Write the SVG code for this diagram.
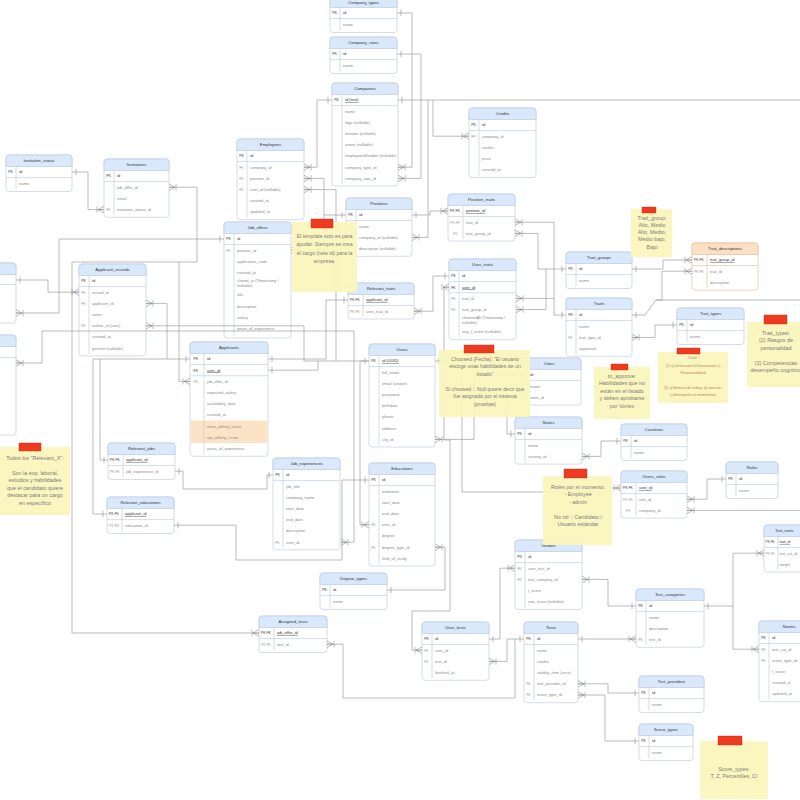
<svg xmlns="http://www.w3.org/2000/svg" width="800" height="800" viewBox="0 0 800 800">
<defs>
<style>
.bx{fill:#fff;stroke:#b7c6da;stroke-width:.6}
.hd{fill:#dae8fc;stroke:#b7c6da;stroke-width:.6}
.ho{fill:#fde0c4;stroke:#e0b98f;stroke-width:.6}
.bo{fill:#fff;stroke:#e0b98f;stroke-width:.6}
.sp{fill:none;stroke:#b7c6da;stroke-width:.6}
.so{fill:none;stroke:#e0b98f;stroke-width:.6}
text{font-family:"Liberation Sans",Arial,sans-serif}
.tt{font-size:4.3px;fill:#333;text-anchor:middle}
.f{font-size:4px;fill:#8a8a8a}
.p{fill:#333}
.k{font-size:3.5px;fill:#999}
.kp{fill:#333}
.u{text-decoration:underline}
.cn{fill:none;stroke:#9e9e9e;stroke-width:.7}
.nt{fill:#fbf5bb;fill-opacity:.93}
.tag{fill:#ee3b1f;stroke:#c52a12;stroke-width:.4}
.nx{font-size:5.4px;fill:#7b7b7b;text-anchor:middle}
.ns{font-size:3.4px;fill:#b38352;text-anchor:middle}
</style>
<marker id="m" viewBox="-8 -4 9 8" refX="0" refY="0" markerWidth="9" markerHeight="8" markerUnits="userSpaceOnUse" orient="auto-start-reverse"><path d="M-7,-3.2V3.2M-6,0L0,-3.2M-6,0H0M-6,0L0,3.2" fill="none" stroke="#8f8f8f" stroke-width=".6"/></marker>
<marker id="o" viewBox="-8 -4 9 8" refX="0" refY="0" markerWidth="9" markerHeight="8" markerUnits="userSpaceOnUse" orient="auto-start-reverse"><path d="M-4,-3.2V3.2" fill="none" stroke="#8f8f8f" stroke-width=".6"/></marker>
</defs>
<rect width="800" height="800" fill="#fff"/>

<g id="company_types" transform="translate(330,-4)"><rect class="bx" width="67" height="36.5" rx="3"/><path class="hd" d="M0,11.5V3a3,3 0 0 1 3,-3H64a3,3 0 0 1 3,3V11.5Z"/><path class="sp" d="M0,22.6H67M10,11.5V34.5"/><text class="tt" x="33.5" y="7.6">Company_types</text><text class="k kp" x="2.2" y="18.4">PK</text><text class="f p" x="13" y="18.4">id</text><text class="f" x="13" y="29.6">name</text></g>

<g id="company_sizes" transform="translate(330,37)"><rect class="bx" width="67" height="36.5" rx="3"/><path class="hd" d="M0,11.5V3a3,3 0 0 1 3,-3H64a3,3 0 0 1 3,3V11.5Z"/><path class="sp" d="M0,22.6H67M10,11.5V34.5"/><text class="tt" x="33.5" y="7.3">Company_sizes</text><text class="k kp" x="2.2" y="18.4">PK</text><text class="f p" x="13" y="18.4">id</text><text class="f" x="13" y="29.6">name</text></g>

<g id="companies" transform="translate(332,83)"><rect class="bx" width="66" height="103" rx="3"/><path class="hd" d="M0,11.5V3a3,3 0 0 1 3,-3H63a3,3 0 0 1 3,3V11.5Z"/><path class="sp" d="M0,22.6H66M10,11.5V101"/><text class="tt" x="33" y="7.3">Companies</text><text class="k kp" x="2.2" y="18.4">PK</text><text class="f p u" x="13" y="18.4">id (text)</text><text class="f" x="13" y="29.6">name</text><text class="f" x="13" y="40.8">logo (nullable)</text><text class="f" x="13" y="52">mission (nullable)</text><text class="f" x="13" y="63.2">vision (nullable)</text><text class="f" x="13" y="74.4">employeesNumber (nullable)</text><text class="f" x="13" y="85.6">company_type_id</text><text class="f" x="13" y="96.8">company_size_id</text></g>

<g id="credits" transform="translate(469,108)"><rect class="bx" width="67" height="69.5" rx="3"/><path class="hd" d="M0,11.5V3a3,3 0 0 1 3,-3H64a3,3 0 0 1 3,3V11.5Z"/><path class="sp" d="M0,22.6H67M10,11.5V67.5"/><text class="tt" x="33.5" y="7.3">Credits</text><text class="k kp" x="2.2" y="18.4">PK</text><text class="f p" x="13" y="18.4">id</text><text class="k" x="2.2" y="29.6">FK</text><text class="f" x="13" y="29.6">company_id</text><text class="f" x="13" y="40.8">credits</text><text class="f" x="13" y="52">price</text><text class="f" x="13" y="63.2">created_at</text></g>

<g id="employees" transform="translate(237,139)"><rect class="bx" width="67" height="80.7" rx="3"/><path class="hd" d="M0,11.5V3a3,3 0 0 1 3,-3H64a3,3 0 0 1 3,3V11.5Z"/><path class="sp" d="M0,22.6H67M10,11.5V78.7"/><text class="tt" x="33.5" y="7.3">Employees</text><text class="k kp" x="2.2" y="18.4">PK</text><text class="f p" x="13" y="18.4">id</text><text class="k" x="2.2" y="29.6">FK</text><text class="f" x="13" y="29.6">company_id</text><text class="k" x="2.2" y="40.8">FK</text><text class="f" x="13" y="40.8">position_id</text><text class="k" x="2.2" y="52">FK</text><text class="f" x="13" y="52">user_id (nullable)</text><text class="f" x="13" y="63.2">created_at</text><text class="f" x="13" y="74.4">updated_at</text></g>

<g id="positions" transform="translate(346,198)"><rect class="bx" width="66" height="58.3" rx="3"/><path class="hd" d="M0,11.5V3a3,3 0 0 1 3,-3H63a3,3 0 0 1 3,3V11.5Z"/><path class="sp" d="M0,22.6H66M10,11.5V56.3"/><text class="tt" x="33" y="7.3">Positions</text><text class="k kp" x="2.2" y="18.4">PK</text><text class="f p" x="13" y="18.4">id</text><text class="f" x="13" y="29.6">name</text><text class="f" x="13" y="40.8">company_id (nullable)</text><text class="f" x="13" y="52">description (nullable)</text></g>

<g id="job_offers" transform="translate(224,222)"><rect class="bx" width="67" height="116" rx="3"/><path class="hd" d="M0,11.5V3a3,3 0 0 1 3,-3H64a3,3 0 0 1 3,3V11.5Z"/><path class="sp" d="M0,22.6H67M10,11.5V114"/><text class="tt" x="33.5" y="7.3">Job_offers</text><text class="k kp" x="2.2" y="18.4">PK</text><text class="f p" x="13" y="18.4">id</text><text class="k" x="2.2" y="29.6">FK</text><text class="f" x="13" y="29.6">position_id</text><text class="f" x="13" y="40.8">application_code</text><text class="f" x="13" y="52">created_at</text><text class="f" x="13" y="60.4">closed_at (Timestamp /</text><text class="f" x="13" y="65.4">nullable)</text><text class="f" x="13" y="74.4">title</text><text class="f" x="13" y="85.6">description</text><text class="f" x="13" y="96.8">salary</text><text class="f" x="13" y="108">years_of_experience</text></g>

<g id="position_traits" transform="translate(448,194)"><rect class="bx" width="67" height="47.1" rx="3"/><path class="hd" d="M0,11.5V3a3,3 0 0 1 3,-3H64a3,3 0 0 1 3,3V11.5Z"/><path class="sp" d="M0,22.6H67M15,11.5V45.1"/><text class="tt" x="33.5" y="7.3">Position_traits</text><text class="k kp" x="1.8" y="18.4">PK FK</text><text class="f p u" x="18" y="18.4">position_id</text><text class="k" x="1.8" y="29.6">PK FK</text><text class="f" x="18" y="29.6">trait_id</text><text class="k" x="5" y="40.8">FK</text><text class="f" x="18" y="40.8">trait_group_id</text></g>

<g id="invitation_status" transform="translate(6,155)"><rect class="bx" width="66" height="36.5" rx="3"/><path class="hd" d="M0,11.5V3a3,3 0 0 1 3,-3H63a3,3 0 0 1 3,3V11.5Z"/><path class="sp" d="M0,22.6H66M10,11.5V34.5"/><text class="tt" x="33" y="7.3">Invitation_status</text><text class="k kp" x="2.2" y="18.4">PK</text><text class="f p" x="13" y="18.4">id</text><text class="f" x="13" y="29.6">name</text></g>

<g id="invitations" transform="translate(104,159)"><rect class="bx" width="65" height="58.3" rx="3"/><path class="hd" d="M0,11.5V3a3,3 0 0 1 3,-3H62a3,3 0 0 1 3,3V11.5Z"/><path class="sp" d="M0,22.6H65M10,11.5V56.3"/><text class="tt" x="32.5" y="7.3">Invitations</text><text class="k kp" x="2.2" y="18.4">PK</text><text class="f p" x="13" y="18.4">id</text><text class="f" x="13" y="29.6">job_offer_id</text><text class="f" x="13" y="40.8">email</text><text class="k" x="2.2" y="52">FK</text><text class="f" x="13" y="52">invitation_status_id</text></g>

<g id="applicant_records" transform="translate(79,264)"><rect class="bx" width="67" height="91.9" rx="3"/><path class="hd" d="M0,11.5V3a3,3 0 0 1 3,-3H64a3,3 0 0 1 3,3V11.5Z"/><path class="sp" d="M0,22.6H67M10,11.5V89.9"/><text class="tt" x="33.5" y="7.3">Applicant_records</text><text class="k kp" x="2.2" y="18.4">PK</text><text class="f p" x="13" y="18.4">id</text><text class="k" x="2.2" y="29.6">FK</text><text class="f" x="13" y="29.6">record_id</text><text class="k" x="2.2" y="40.8">FK</text><text class="f" x="13" y="40.8">applicant_id</text><text class="f" x="13" y="52">notes</text><text class="k" x="2.2" y="63.2">FK</text><text class="f" x="13" y="63.2">author_id (user)</text><text class="f" x="13" y="74.4">created_at</text><text class="f" x="13" y="85.6">percent (nullable)</text></g>

<g id="applicants" transform="translate(190,342)"><rect class="bx" width="78" height="114.3" rx="3"/><rect x="0.3" y="78.6" width="77.4" height="22.4" fill="#fde3c6"/><path class="hd" d="M0,11.5V3a3,3 0 0 1 3,-3H75a3,3 0 0 1 3,3V11.5Z"/><path class="sp" d="M0,22.6H78M0,33.8H78M14,11.5V112.3"/><text class="tt" x="39" y="7.3">Applicants</text><text class="k kp" x="3.5" y="18.4">PK</text><text class="f p" x="17" y="18.4">id</text><text class="k kp" x="3.5" y="29.6">FK</text><text class="f p u" x="17" y="29.6">user_id</text><text class="k" x="3.5" y="40.8">FK</text><text class="f" x="17" y="40.8">job_offer_id</text><text class="f" x="17" y="52">expected_salary</text><text class="f" x="17" y="63.2">availability_date</text><text class="f" x="17" y="74.4">created_at</text><text class="f" x="17" y="85.6">main_affinity_score</text><text class="f" x="17" y="96.8">opt_affinity_score</text><text class="f" x="17" y="108">years_of_experience</text></g>

<g id="relevant_traits" transform="translate(348,283)"><rect class="bx" width="66" height="36" rx="3"/><path class="hd" d="M0,11.5V3a3,3 0 0 1 3,-3H63a3,3 0 0 1 3,3V11.5Z"/><path class="sp" d="M0,22.6H66M15,11.5V34"/><text class="tt" x="33" y="7.3">Relevant_traits</text><text class="k kp" x="1.8" y="18.4">PK FK</text><text class="f p u" x="18" y="18.4">applicant_id</text><text class="k" x="1.8" y="29.6">PK FK</text><text class="f" x="18" y="29.6">user_trait_id</text></g>

<g id="users" transform="translate(369,344)"><rect class="bx" width="66" height="103" rx="3"/><path class="hd" d="M0,11.5V3a3,3 0 0 1 3,-3H63a3,3 0 0 1 3,3V11.5Z"/><path class="sp" d="M0,22.6H66M10,11.5V101"/><text class="tt" x="33" y="7.3">Users</text><text class="k kp" x="2.2" y="18.4">PK</text><text class="f p u" x="13" y="18.4">id (UUID)</text><text class="f" x="13" y="29.6">full_name</text><text class="f" x="13" y="40.8">email (unique)</text><text class="f" x="13" y="52">password</text><text class="f" x="13" y="63.2">birthdate</text><text class="f" x="13" y="74.4">phone</text><text class="f" x="13" y="85.6">address</text><text class="f" x="13" y="96.8">city_id</text></g>

<g id="job_experiences" transform="translate(273,458)"><rect class="bx" width="67" height="91.9" rx="3"/><path class="hd" d="M0,11.5V3a3,3 0 0 1 3,-3H64a3,3 0 0 1 3,3V11.5Z"/><path class="sp" d="M0,22.6H67M10,11.5V89.9"/><text class="tt" x="33.5" y="7.3">Job_experiences</text><text class="k kp" x="2.2" y="18.4">PK</text><text class="f p" x="13" y="18.4">id</text><text class="f" x="13" y="29.6">job_title</text><text class="f" x="13" y="40.8">company_name</text><text class="f" x="13" y="52">start_date</text><text class="f" x="13" y="63.2">end_date</text><text class="f" x="13" y="74.4">description</text><text class="k" x="2.2" y="85.6">FK</text><text class="f" x="13" y="85.6">user_id</text></g>

<g id="educations" transform="translate(369,463)"><rect class="bx" width="66" height="103" rx="3"/><path class="hd" d="M0,11.5V3a3,3 0 0 1 3,-3H63a3,3 0 0 1 3,3V11.5Z"/><path class="sp" d="M0,22.6H66M10,11.5V101"/><text class="tt" x="33" y="7.3">Educations</text><text class="k kp" x="2.2" y="18.4">PK</text><text class="f p" x="13" y="18.4">id</text><text class="f" x="13" y="29.6">institution</text><text class="f" x="13" y="40.8">start_date</text><text class="f" x="13" y="52">end_date</text><text class="k" x="2.2" y="63.2">FK</text><text class="f" x="13" y="63.2">user_id</text><text class="f" x="13" y="74.4">degree</text><text class="k" x="2.2" y="85.6">FK</text><text class="f" x="13" y="85.6">degree_type_id</text><text class="f" x="13" y="96.8">field_of_study</text></g>

<g id="degree_types" transform="translate(320,573)"><rect class="bx" width="67" height="36.5" rx="3"/><path class="hd" d="M0,11.5V3a3,3 0 0 1 3,-3H64a3,3 0 0 1 3,3V11.5Z"/><path class="sp" d="M0,22.6H67M10,11.5V34.5"/><text class="tt" x="33.5" y="7.3">Degree_types</text><text class="k kp" x="2.2" y="18.4">PK</text><text class="f p" x="13" y="18.4">id</text><text class="f" x="13" y="29.6">name</text></g>

<g id="assigned_tests" transform="translate(259,616)"><rect class="bx" width="68" height="36.5" rx="3"/><path class="hd" d="M0,11.5V3a3,3 0 0 1 3,-3H65a3,3 0 0 1 3,3V11.5Z"/><path class="sp" d="M0,22.6H68M15,11.5V34.5"/><text class="tt" x="34" y="7.3">Assigned_tests</text><text class="k kp" x="1.8" y="18.4">PK FK</text><text class="f p u" x="18" y="18.4">job_offer_id</text><text class="k" x="1.8" y="29.6">PK FK</text><text class="f" x="18" y="29.6">test_id</text></g>

<g id="relevant_jobs" transform="translate(108,443)"><rect class="bx" width="67" height="36.5" rx="3"/><path class="hd" d="M0,11.5V3a3,3 0 0 1 3,-3H64a3,3 0 0 1 3,3V11.5Z"/><path class="sp" d="M0,22.6H67M15,11.5V34.5"/><text class="tt" x="33.5" y="7.3">Relevant_jobs</text><text class="k kp" x="1.8" y="18.4">PK FK</text><text class="f p u" x="18" y="18.4">applicant_id</text><text class="k" x="1.8" y="29.6">PK FK</text><text class="f" x="18" y="29.6">job_experience_id</text></g>

<g id="relevant_educations" transform="translate(107,497)"><rect class="bx" width="67" height="36.5" rx="3"/><path class="hd" d="M0,11.5V3a3,3 0 0 1 3,-3H64a3,3 0 0 1 3,3V11.5Z"/><path class="sp" d="M0,22.6H67M15,11.5V34.5"/><text class="tt" x="33.5" y="7.3">Relevant_educations</text><text class="k kp" x="1.8" y="18.4">PK FK</text><text class="f p u" x="18" y="18.4">applicant_id</text><text class="k" x="1.8" y="29.6">PK FK</text><text class="f" x="18" y="29.6">education_id</text></g>

<g id="user_traits" transform="translate(449,259)"><rect class="bx" width="67" height="80.7" rx="3"/><path class="hd" d="M0,11.5V3a3,3 0 0 1 3,-3H64a3,3 0 0 1 3,3V11.5Z"/><path class="sp" d="M0,22.6H67M0,33.8H67M10,11.5V78.7"/><text class="tt" x="33.5" y="7.3">User_traits</text><text class="k kp" x="2.2" y="18.4">PK</text><text class="f p" x="13" y="18.4">id</text><text class="k kp" x="2.2" y="29.6">FK</text><text class="f p u" x="13" y="29.6">user_id</text><text class="k" x="2.2" y="40.8">FK</text><text class="f" x="13" y="40.8">trait_id</text><text class="k" x="2.2" y="52">FK</text><text class="f" x="13" y="52">trait_group_id</text><text class="f" x="13" y="60.4">choosedAt (Timestamp /</text><text class="f" x="13" y="65.4">nullable)</text><text class="f" x="13" y="74.4">avg_t_score (nullable)</text></g>

<g id="cities" transform="translate(517,358)"><rect class="bx" width="64" height="47.1" rx="3"/><path class="hd" d="M0,11.5V3a3,3 0 0 1 3,-3H61a3,3 0 0 1 3,3V11.5Z"/><path class="sp" d="M0,22.6H64M10,11.5V45.1"/><text class="tt" x="32" y="7.3">Cities</text><text class="k kp" x="2.2" y="18.4">PK</text><text class="f p" x="13" y="18.4">id</text><text class="f" x="13" y="29.6">name</text><text class="f" x="13" y="40.8">state_id</text></g>

<g id="states" transform="translate(515,417)"><rect class="bx" width="67" height="47.1" rx="3"/><path class="hd" d="M0,11.5V3a3,3 0 0 1 3,-3H64a3,3 0 0 1 3,3V11.5Z"/><path class="sp" d="M0,22.6H67M10,11.5V45.1"/><text class="tt" x="33.5" y="7.3">States</text><text class="k kp" x="2.2" y="18.4">PK</text><text class="f p" x="13" y="18.4">id</text><text class="f" x="13" y="29.6">name</text><text class="f" x="13" y="40.8">country_id</text></g>

<g id="trait_groups" transform="translate(566,252)"><rect class="bx" width="66" height="36.5" rx="3"/><path class="hd" d="M0,11.5V3a3,3 0 0 1 3,-3H63a3,3 0 0 1 3,3V11.5Z"/><path class="sp" d="M0,22.6H66M10,11.5V34.5"/><text class="tt" x="33" y="7.3">Trait_groups</text><text class="k kp" x="2.2" y="18.4">PK</text><text class="f p" x="13" y="18.4">id</text><text class="f" x="13" y="29.6">name</text></g>

<g id="traits" transform="translate(566,298)"><rect class="bx" width="66" height="58.3" rx="3"/><path class="hd" d="M0,11.5V3a3,3 0 0 1 3,-3H63a3,3 0 0 1 3,3V11.5Z"/><path class="sp" d="M0,22.6H66M10,11.5V56.3"/><text class="tt" x="33" y="7.3">Traits</text><text class="k kp" x="2.2" y="18.4">PK</text><text class="f p" x="13" y="18.4">id</text><text class="f" x="13" y="29.6">name</text><text class="k" x="2.2" y="40.8">FK</text><text class="f" x="13" y="40.8">trait_type_id</text><text class="f" x="13" y="52">approved</text></g>

<g id="trait_descriptions" transform="translate(692,243)"><rect class="bo" width="66" height="47.1" rx="3"/><path class="ho" d="M0,11.5V3a3,3 0 0 1 3,-3H63a3,3 0 0 1 3,3V11.5Z"/><path class="so" d="M0,22.6H66M15,11.5V45.1"/><text class="tt" x="33" y="7.3">Trait_descriptions</text><text class="k kp" x="1.8" y="18.4">PK FK</text><text class="f p u" x="18" y="18.4">trait_group_id</text><text class="k" x="1.8" y="29.6">PK FK</text><text class="f" x="18" y="29.6">trait_id</text><text class="f" x="18" y="40.8">description</text></g>

<g id="trait_types" transform="translate(677,308)"><rect class="bx" width="67" height="36.5" rx="3"/><path class="hd" d="M0,11.5V3a3,3 0 0 1 3,-3H64a3,3 0 0 1 3,3V11.5Z"/><path class="sp" d="M0,22.6H67M10,11.5V34.5"/><text class="tt" x="33.5" y="7.3">Trait_types</text><text class="k kp" x="2.2" y="18.4">PK</text><text class="f p" x="13" y="18.4">id</text><text class="f" x="13" y="29.6">name</text></g>

<g id="countries" transform="translate(621,424)"><rect class="bx" width="66" height="36.5" rx="3"/><path class="hd" d="M0,11.5V3a3,3 0 0 1 3,-3H63a3,3 0 0 1 3,3V11.5Z"/><path class="sp" d="M0,22.6H66M10,11.5V34.5"/><text class="tt" x="33" y="7.3">Countries</text><text class="k kp" x="2.2" y="18.4">PK</text><text class="f p" x="13" y="18.4">id</text><text class="f" x="13" y="29.6">name</text></g>

<g id="users_roles" transform="translate(621,471)"><rect class="bx" width="66" height="47.1" rx="3"/><path class="hd" d="M0,11.5V3a3,3 0 0 1 3,-3H63a3,3 0 0 1 3,3V11.5Z"/><path class="sp" d="M0,22.6H66M15,11.5V45.1"/><text class="tt" x="33" y="7.3">Users_roles</text><text class="k kp" x="1.8" y="18.4">PK FK</text><text class="f p u" x="18" y="18.4">user_id</text><text class="k" x="1.8" y="29.6">PK FK</text><text class="f" x="18" y="29.6">role_id</text><text class="k" x="5" y="40.8">FK</text><text class="f" x="18" y="40.8">company_id</text></g>

<g id="roles" transform="translate(726,462)"><rect class="bx" width="52" height="36.5" rx="3"/><path class="hd" d="M0,11.5V3a3,3 0 0 1 3,-3H49a3,3 0 0 1 3,3V11.5Z"/><path class="sp" d="M0,22.6H52M10,11.5V34.5"/><text class="tt" x="26" y="7.3">Roles</text><text class="k kp" x="2.2" y="18.4">PK</text><text class="f p" x="13" y="18.4">id</text><text class="f" x="13" y="29.6">name</text></g>

<g id="grades" transform="translate(515,540)"><rect class="bx" width="67" height="69.5" rx="3"/><path class="hd" d="M0,11.5V3a3,3 0 0 1 3,-3H64a3,3 0 0 1 3,3V11.5Z"/><path class="sp" d="M0,22.6H67M10,11.5V67.5"/><text class="tt" x="33.5" y="7.3">Grades</text><text class="k kp" x="2.2" y="18.4">PK</text><text class="f p" x="13" y="18.4">id</text><text class="k" x="2.2" y="29.6">FK</text><text class="f" x="13" y="29.6">user_test_id</text><text class="k" x="2.2" y="40.8">FK</text><text class="f" x="13" y="40.8">test_category_id</text><text class="f" x="13" y="52">t_score</text><text class="f" x="13" y="63.2">raw_score (nullable)</text></g>

<g id="user_tests" transform="translate(422,622)"><rect class="bx" width="67" height="58.3" rx="3"/><path class="hd" d="M0,11.5V3a3,3 0 0 1 3,-3H64a3,3 0 0 1 3,3V11.5Z"/><path class="sp" d="M0,22.6H67M10,11.5V56.3"/><text class="tt" x="33.5" y="7.3">User_tests</text><text class="k kp" x="2.2" y="18.4">PK</text><text class="f p" x="13" y="18.4">id</text><text class="k" x="2.2" y="29.6">FK</text><text class="f" x="13" y="29.6">user_id</text><text class="k" x="2.2" y="40.8">FK</text><text class="f" x="13" y="40.8">test_id</text><text class="f" x="13" y="52">finished_at</text></g>

<g id="tests" transform="translate(524,622)"><rect class="bx" width="54" height="80.7" rx="3"/><path class="hd" d="M0,11.5V3a3,3 0 0 1 3,-3H51a3,3 0 0 1 3,3V11.5Z"/><path class="sp" d="M0,22.6H54M10,11.5V78.7"/><text class="tt" x="27" y="7.3">Tests</text><text class="k kp" x="2.2" y="18.4">PK</text><text class="f p" x="13" y="18.4">id</text><text class="f" x="13" y="29.6">name</text><text class="f" x="13" y="40.8">credits</text><text class="f" x="13" y="52">validity_time (secs)</text><text class="k" x="2.2" y="63.2">FK</text><text class="f" x="13" y="63.2">test_provider_id</text><text class="k" x="2.2" y="74.4">FK</text><text class="f" x="13" y="74.4">score_type_id</text></g>

<g id="test_categories" transform="translate(636,589)"><rect class="bx" width="68" height="58.3" rx="3"/><path class="hd" d="M0,11.5V3a3,3 0 0 1 3,-3H65a3,3 0 0 1 3,3V11.5Z"/><path class="sp" d="M0,22.6H68M10,11.5V56.3"/><text class="tt" x="34" y="7.3">Test_categories</text><text class="k kp" x="2.2" y="18.4">PK</text><text class="f p" x="13" y="18.4">id</text><text class="f" x="13" y="29.6">name</text><text class="f" x="13" y="40.8">description</text><text class="k" x="2.2" y="52">FK</text><text class="f" x="13" y="52">test_id</text></g>

<g id="test_providers" transform="translate(639,676)"><rect class="bx" width="65" height="36.5" rx="3"/><path class="hd" d="M0,11.5V3a3,3 0 0 1 3,-3H62a3,3 0 0 1 3,3V11.5Z"/><path class="sp" d="M0,22.6H65M10,11.5V34.5"/><text class="tt" x="32.5" y="7.3">Test_providers</text><text class="k kp" x="2.2" y="18.4">PK</text><text class="f p" x="13" y="18.4">id</text><text class="f" x="13" y="29.6">name</text></g>

<g id="score_types" transform="translate(639,724)"><rect class="bx" width="54" height="36.5" rx="3"/><path class="hd" d="M0,11.5V3a3,3 0 0 1 3,-3H51a3,3 0 0 1 3,3V11.5Z"/><path class="sp" d="M0,22.6H54M10,11.5V34.5"/><text class="tt" x="27" y="7.3">Score_types</text><text class="k kp" x="2.2" y="18.4">PK</text><text class="f p" x="13" y="18.4">id</text><text class="f" x="13" y="29.6">name</text></g>

<g id="norms" transform="translate(759,621)"><rect class="bx" width="70" height="80.7" rx="3"/><path class="hd" d="M0,11.5V3a3,3 0 0 1 3,-3H67a3,3 0 0 1 3,3V11.5Z"/><path class="sp" d="M0,22.6H70M10,11.5V78.7"/><text class="tt" x="30" y="7.3">Norms</text><text class="k kp" x="2.2" y="18.4">PK</text><text class="f p" x="13" y="18.4">id</text><text class="k" x="2.2" y="29.6">FK</text><text class="f" x="13" y="29.6">test_cat_id</text><text class="k" x="2.2" y="40.8">FK</text><text class="f" x="13" y="40.8">score_type_id</text><text class="f" x="13" y="52">t_score</text><text class="f" x="13" y="63.2">created_at</text><text class="f" x="13" y="74.4">updated_at</text></g>

<g id="test_traits" transform="translate(764,525)"><rect class="bx" width="68" height="47.1" rx="3"/><path class="hd" d="M0,11.5V3a3,3 0 0 1 3,-3H65a3,3 0 0 1 3,3V11.5Z"/><path class="sp" d="M0,22.6H68M14,11.5V45.1"/><text class="tt" x="11" y="7.3" style="text-anchor:start;font-size:4px">Test_traits</text><text class="k kp" x="1.5" y="18.4" style="font-size:3.2px">PK FK</text><text class="f p u" x="15.5" y="18.4" style="font-size:3.6px">trait_id</text><text class="k" x="1.5" y="29.6" style="font-size:3.2px">PK FK</text><text class="f" x="15.5" y="29.6" style="font-size:3.6px">test_cat_id</text><text class="f" x="15.5" y="40.8" style="font-size:3.6px">weight</text></g>

<g id="left_table_1" transform="translate(-52,263)"><rect class="bx" width="68" height="60" rx="3"/><path class="hd" d="M0,11.5V3a3,3 0 0 1 3,-3H65a3,3 0 0 1 3,3V11.5Z"/><path class="sp" d="M0,21.5H68"/></g>
<g id="left_table_2" transform="translate(-52,335)"><rect class="bx" width="68" height="100" rx="3"/><path class="hd" d="M0,11.5V3a3,3 0 0 1 3,-3H65a3,3 0 0 1 3,3V11.5Z"/><path class="sp" d="M0,22.6H68"/></g>

<g id="connectors">
<path class="cn" d="M397,13H412V167.2H398" marker-start="url(#o)" marker-end="url(#m)"/>
<path class="cn" d="M397,54H421V178.4H398" marker-start="url(#o)" marker-end="url(#m)"/>
<path class="cn" d="M332,100H317V167.2H304" marker-start="url(#o)" marker-end="url(#m)"/>
<path class="cn" d="M398,100H800" marker-start="url(#o)"/>
<path class="cn" d="M428,100V237.4H412" marker-end="url(#m)"/>
<path class="cn" d="M433,100V136.2H469" marker-end="url(#m)"/>
<path class="cn" d="M346,215H324V178.4H304" marker-start="url(#o)" marker-end="url(#m)"/>
<path class="cn" d="M324,215V250.2H291" marker-end="url(#m)"/>
<path class="cn" d="M369,361H336V189.6H304" marker-start="url(#o)" marker-end="url(#m)"/>
<path class="cn" d="M336,361H318V370.2H268" marker-end="url(#o)"/>
<path class="cn" d="M318,361H304V325.8H146" marker-end="url(#m)"/>
<path class="cn" d="M369,361H360V524.8H369" marker-end="url(#m)"/>
<path class="cn" d="M341,542.2H354V331H42V363H16" marker-start="url(#m)" marker-end="url(#m)"/>
<path class="cn" d="M190,359H167V303.4H146" marker-start="url(#o)" marker-end="url(#m)"/>
<path class="cn" d="M167,359H100V460H108" marker-end="url(#o)"/>
<path class="cn" d="M100,359H93V514H107" marker-end="url(#o)"/>
<path class="cn" d="M175,471.2H183V489H267V475H273" marker-start="url(#o)" marker-end="url(#o)"/>
<path class="cn" d="M174,525.2H236V560H342V480H369" marker-start="url(#o)" marker-end="url(#o)"/>
<path class="cn" d="M348,300H326V359H268" marker-start="url(#o)" marker-end="url(#o)"/>
<path class="cn" d="M414,311.2H433V276H449" marker-start="url(#m)" marker-end="url(#o)"/>
<path class="cn" d="M435,361H444V287.2H449" marker-start="url(#o)" marker-end="url(#m)"/>
<path class="cn" d="M444,361V440H450V611H412V650.2H422" marker-end="url(#m)"/>
<path class="cn" d="M444,361H462V492H610V488H621" marker-end="url(#m)"/>
<path class="cn" d="M435,439.4H474V375H517" marker-start="url(#m)" marker-end="url(#o)"/>
<path class="cn" d="M517,397.4H507V434H515" marker-start="url(#m)" marker-end="url(#o)"/>
<path class="cn" d="M582,456.4H601V441H621" marker-start="url(#m)" marker-end="url(#o)"/>
<path class="cn" d="M687,499.2H707V479H726" marker-start="url(#m)" marker-end="url(#o)"/>
<path class="cn" d="M687,510.4H800" marker-start="url(#m)"/>
<path class="cn" d="M412,215H430V211H448" marker-start="url(#o)" marker-end="url(#m)"/>
<path class="cn" d="M515,222.2H554V315H566" marker-start="url(#m)" marker-end="url(#o)"/>
<path class="cn" d="M515,233.4H538V269H566" marker-start="url(#m)" marker-end="url(#o)"/>
<path class="cn" d="M516,298.4H554" marker-start="url(#m)"/>
<path class="cn" d="M516,309.6H546V269" marker-start="url(#m)"/>
<path class="cn" d="M632,269H663V260H692" marker-start="url(#o)" marker-end="url(#m)"/>
<path class="cn" d="M632,315H645L656,300H662V271.2H692" marker-start="url(#o)" marker-end="url(#m)"/>
<path class="cn" d="M656,300H800"/>
<path class="cn" d="M632,337.4H655V325H677" marker-start="url(#m)" marker-end="url(#o)"/>
<path class="cn" d="M72,172H88V209.6H104" marker-start="url(#o)" marker-end="url(#m)"/>
<path class="cn" d="M169,187.2H197V262H72V633H259" marker-start="url(#m)" marker-end="url(#m)"/>
<path class="cn" d="M179,262V381.4H190" marker-end="url(#m)"/>
<path class="cn" d="M224,239H59V313H16" marker-start="url(#o)" marker-end="url(#m)"/>
<path class="cn" d="M16,280H48V292.2H79" marker-start="url(#o)" marker-end="url(#m)"/>
<path class="cn" d="M435,547.2H445V590H387" marker-start="url(#m)" marker-end="url(#o)"/>
<path class="cn" d="M327,644.2H343V698H515V639H524" marker-start="url(#m)" marker-end="url(#o)"/>
<path class="cn" d="M489,661.4H507V639H515" marker-start="url(#m)"/>
<path class="cn" d="M489,639H500V568.2H515" marker-start="url(#o)" marker-end="url(#m)"/>
<path class="cn" d="M582,579.4H608V606H636" marker-start="url(#m)" marker-end="url(#o)"/>
<path class="cn" d="M578,639H636" marker-start="url(#o)" marker-end="url(#m)"/>
<path class="cn" d="M578,683.8H608V693H639" marker-start="url(#m)" marker-end="url(#o)"/>
<path class="cn" d="M578,695H605V741H639" marker-start="url(#m)" marker-end="url(#o)"/>
<path class="cn" d="M704,606H733V553.2H764" marker-start="url(#o)" marker-end="url(#m)"/>
<path class="cn" d="M733,606V649.2H759" marker-end="url(#m)"/>
</g>

<g id="note_template"><rect class="nt" x="292" y="222" width="65" height="70"/><rect class="tag" x="311" y="219" width="22" height="9"/><text class="nx" x="324.5" y="237.5" style="font-size:5.2px">El template solo es para</text><text class="nx" x="324.5" y="246" style="font-size:5.2px">ayudar. Siempre se crea</text><text class="nx" x="324.5" y="254.5" style="font-size:5.2px">el cargo (new id) para la</text><text class="nx" x="324.5" y="263" style="font-size:5.2px">empresa.</text></g>

<g id="note_choosed"><rect class="nt" x="439" y="350" width="91" height="67"/><rect class="tag" x="464" y="345" width="30" height="8"/><text class="nx" x="485" y="360.8" style="font-size:5.2px">Choosed (Fecha): "El usuario</text><text class="nx" x="485" y="368.3" style="font-size:5.2px">escoge unas habilidades de un</text><text class="nx" x="485" y="375.8" style="font-size:5.2px">listado"</text><text class="nx" x="485" y="390.8" style="font-size:5.2px">Si choosed :: Null quiere decir que</text><text class="nx" x="485" y="398.3" style="font-size:5.2px">fue asignada por el sistema</text><text class="nx" x="485" y="405.8" style="font-size:5.2px">(pruebas)</text></g>

<g id="note_relevant"><rect class="nt" x="0" y="447" width="70" height="68"/><rect class="tag" x="19" y="443" width="22" height="8"/><text class="nx" x="35" y="459.8">Todos los "Relevant_X":</text><text class="nx" x="35" y="474.8">Son la exp. laboral,</text><text class="nx" x="35" y="482.3">estudios y habilidades</text><text class="nx" x="35" y="489.8">que el candidato quiere</text><text class="nx" x="35" y="497.3">destacar para un cargo</text><text class="nx" x="35" y="504.8">en específico</text></g>

<g id="note_roles"><rect class="nt" x="543" y="476" width="69" height="69"/><rect class="tag" x="564" y="469" width="23" height="9"/><text class="nx" x="578" y="488.8">Roles por el momento:</text><text class="nx" x="578" y="496.3">- Employee</text><text class="nx" x="578" y="503.8">- admin</text><text class="nx" x="578" y="518.8">No rol :: Candidato /</text><text class="nx" x="578" y="526.3">Usuario estándar</text></g>

<g id="note_to_approve"><rect class="nt" x="594" y="367" width="56" height="52"/><rect class="tag" x="611" y="364" width="17" height="6"/><text class="nx" x="622" y="377.8">to_approve:</text><text class="nx" x="622" y="385.3">Habilidades que no</text><text class="nx" x="622" y="392.8">están en el listado</text><text class="nx" x="622" y="400.3">y deben aprobarse</text><text class="nx" x="622" y="407.8">por Vortex</text></g>

<g id="note_trait_group"><rect class="nt" x="631" y="209" width="41" height="48"/><rect class="tag" x="642" y="207" width="14" height="6"/><text class="nx" x="652" y="219.8">Trait_group:</text><text class="nx" x="652" y="226.8">Alto, Medio</text><text class="nx" x="652" y="233.8">Alto, Medio,</text><text class="nx" x="652" y="241">Medio bajo,</text><text class="nx" x="652" y="249">Bajo</text></g>

<g id="note_traits"><rect class="nt" x="658" y="352" width="70" height="51"/><rect class="tag" x="677" y="348" width="23" height="6"/><text class="ns" x="693" y="358.5">Traits:</text><text class="ns" x="693" y="367">(2) a) Introversión b) Extroversión c)</text><text class="ns" x="693" y="374">Responsabilidad</text><text class="ns" x="693" y="389">(3) a) Memoria de trabajo, b) atención,</text><text class="ns" x="693" y="396">c) desempeño en matemáticas</text></g>

<g id="note_trait_types"><rect class="nt" x="747" y="322" width="60" height="65"/><rect class="tag" x="764" y="315" width="23" height="9"/><text class="nx" x="776" y="334.8">Trait_types:</text><text class="nx" x="776" y="342.3">(2) Rasgos de</text><text class="nx" x="776" y="349.8">personalidad</text><text class="nx" x="776" y="364.8">(3) Competencias</text><text class="nx" x="776" y="372.3">desempeño cognitivo</text></g>

<g id="note_score_types"><rect class="nt" x="700" y="741" width="68" height="58"/><rect class="tag" x="718" y="736" width="24" height="9"/><text class="nx" x="734" y="770.8">Score_types:</text><text class="nx" x="734" y="778.3">T, Z, Percentiles, CI</text></g>
</svg>
